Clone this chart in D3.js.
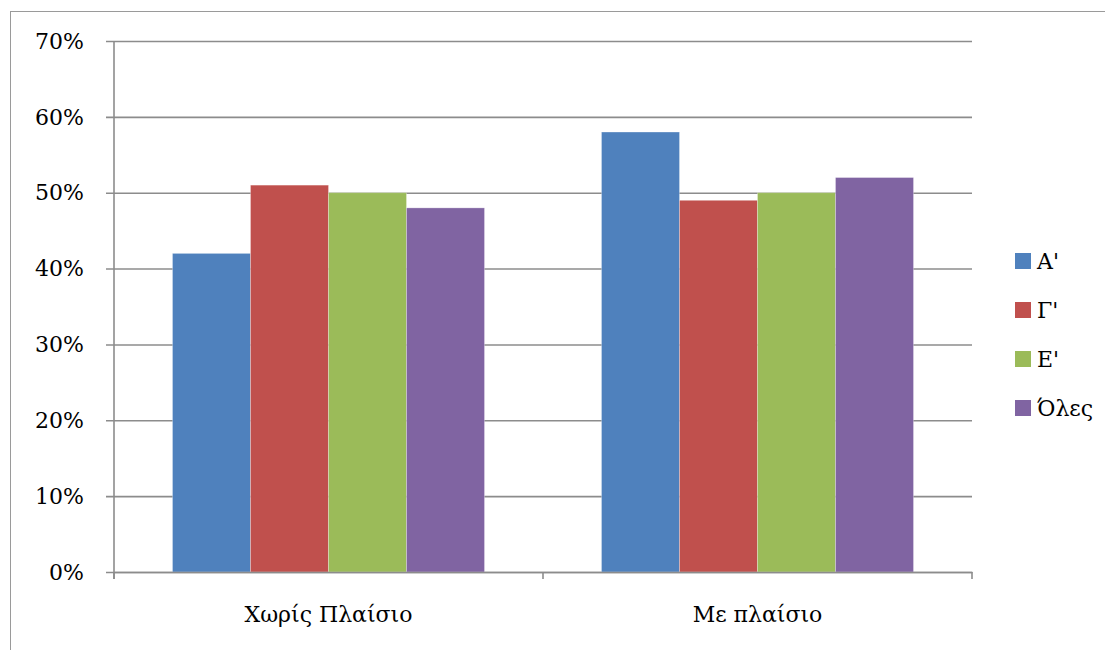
<!DOCTYPE html>
<html>
<head>
<meta charset="utf-8">
<script src="https://cdn.jsdelivr.net/npm/d3@7"></script>
<style>
  html, body { margin: 0; padding: 0; background: #fff; }
</style>
</head>
<body>
<svg id="chart" width="1105" height="650"></svg>
<script>
// Categories and series (percentages)
const categories = ["Χωρίς Πλαίσιο", "Με πλαίσιο"];
const seriesNames = ["A'", "Γ'", "E'", "Όλες"];
const seriesColors = ["#4F81BD", "#C0504D", "#9BBB59", "#8064A2"];
const valuesA = [0.42, 0.58];
const valuesG = [0.51, 0.49];
const valuesE = [0.50, 0.50];
const valuesAll = [0.48, 0.52];
const yTicks = [0, 0.1, 0.2, 0.3, 0.4, 0.5, 0.6, 0.7];

const seriesValues = [valuesA, valuesG, valuesE, valuesAll];
const FONT = "DejaVu Serif";
const FONT_SIZE = 22;

const svg = d3.select("#chart");
const plot = { left: 114, right: 972, top: 41, bottom: 572 };

// Outer frame (top and left edges visible)
svg.append("line").attr("x1", 10).attr("x2", 1105).attr("y1", 11.5).attr("y2", 11.5)
  .attr("stroke", "#9a9a9a").attr("stroke-width", 1);
svg.append("line").attr("x1", 10.5).attr("x2", 10.5).attr("y1", 11).attr("y2", 650)
  .attr("stroke", "#9a9a9a").attr("stroke-width", 1);

const x0 = d3.scaleBand().domain(categories).range([plot.left, plot.right]).paddingInner(0).paddingOuter(0);
const x1 = d3.scaleBand().domain(seriesNames).range([0, x0.bandwidth()]).paddingInner(0).paddingOuter(0.75);
const y = d3.scaleLinear().domain([0, 0.7]).range([plot.bottom, plot.top]);

// Horizontal gridlines with left tick stubs
const yAxis = d3.axisLeft(y).tickValues(yTicks).tickFormat(d3.format(".0%"))
  .tickSize(-(plot.right - plot.left)).tickSizeOuter(0);
const gy = svg.append("g").attr("transform", `translate(${plot.left},0)`).call(yAxis);
gy.attr("font-family", FONT).attr("font-size", FONT_SIZE);
gy.select(".domain").remove();
gy.selectAll(".tick line").attr("stroke", "#8c8c8c").attr("stroke-width", 1.6)
  .attr("x1", -8);
gy.selectAll(".tick text").attr("fill", "#000")
  .attr("x", -30).attr("dy", "0.33em");

// Bars
const groups = svg.append("g").selectAll("g").data(categories).join("g")
  .attr("transform", d => `translate(${x0(d)},0)`);
groups.selectAll("rect")
  .data((c, ci) => seriesNames.map((s, si) => ({ s, si, v: seriesValues[si][ci] })))
  .join("rect")
  .attr("x", d => x1(d.s))
  .attr("width", x1.bandwidth())
  .attr("y", d => y(d.v))
  .attr("height", d => y(0) - y(d.v))
  .attr("fill", d => seriesColors[d.si])
  .attr("stroke", "rgba(255,255,255,0.35)")
  .attr("stroke-width", 0.8);

// Vertical axis line
svg.append("line").attr("x1", plot.left).attr("x2", plot.left)
  .attr("y1", plot.top).attr("y2", plot.bottom + 7)
  .attr("stroke", "#8c8c8c").attr("stroke-width", 1.6);

// Category axis
const xAxis = d3.axisBottom(x0).tickSize(0).tickPadding(34);
const gx = svg.append("g").attr("transform", `translate(0,${plot.bottom})`).call(xAxis);
gx.attr("font-family", FONT).attr("font-size", FONT_SIZE);
gx.select(".domain").attr("stroke", "#8c8c8c").attr("stroke-width", 1.6);
gx.selectAll(".tick text").attr("fill", "#000");
// Category separators
const bounds = [plot.left, plot.left + x0.bandwidth(), plot.right];
svg.append("g").selectAll("line").data(bounds).join("line")
  .attr("x1", d => d).attr("x2", d => d)
  .attr("y1", plot.bottom).attr("y2", plot.bottom + 7)
  .attr("stroke", "#8c8c8c").attr("stroke-width", 1.6);

// Legend
const legend = svg.append("g").attr("transform", "translate(1015,253)")
  .attr("font-family", FONT).attr("font-size", FONT_SIZE);
const li = legend.selectAll("g").data(seriesNames).join("g")
  .attr("transform", (d, i) => `translate(0,${i * 49})`);
li.append("rect").attr("width", 16).attr("height", 16)
  .attr("fill", (d, i) => seriesColors[i]);
li.append("text").attr("x", 22).attr("y", 8).attr("dy", "0.36em")
  .attr("fill", "#000")
  .text(d => d);
</script>
</body>
</html>
